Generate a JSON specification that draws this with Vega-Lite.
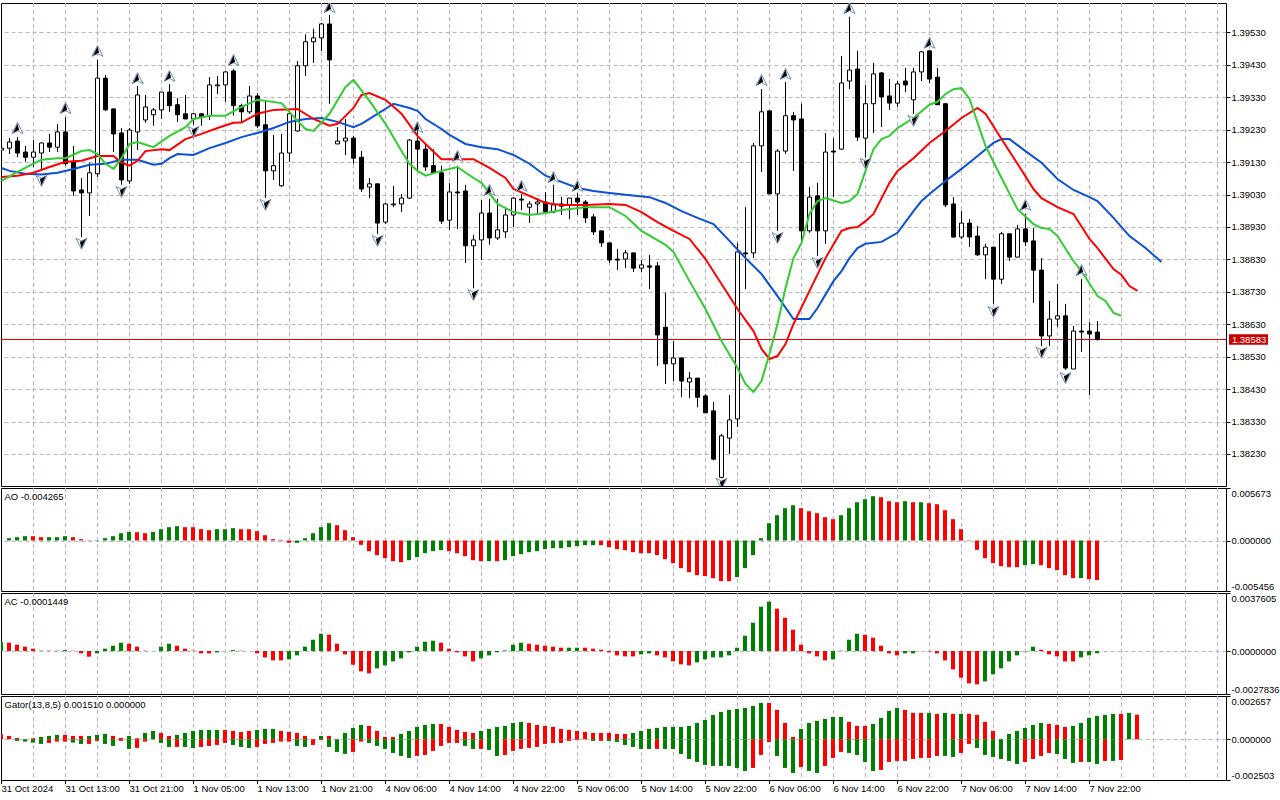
{"$schema":"https://vega.github.io/schema/vega-lite/v6.json","background":"#ffffff","padding":{"left":-3,"top":2,"right":0,"bottom":0},"bounds":"flush","spacing":2,"config":{"view":{"stroke":"#000000","strokeWidth":1},"font":"Liberation Sans","axis":{"labelFont":"Liberation Sans","labelFontSize":9.5,"labelColor":"#000000","tickColor":"#000000","title":null}},
"datasets":{
"candles":[{"i":0,"o":1.39167,"h":1.39189,"l":1.39161,"c":1.39173,"d":"u"},{"i":1,"o":1.39173,"h":1.39204,"l":1.39155,"c":1.39192,"d":"u"},{"i":2,"o":1.39195,"h":1.39207,"l":1.39145,"c":1.39158,"d":"d"},{"i":3,"o":1.39161,"h":1.3918,"l":1.39131,"c":1.39145,"d":"d"},{"i":4,"o":1.39145,"h":1.39198,"l":1.39115,"c":1.39161,"d":"u"},{"i":5,"o":1.39158,"h":1.39192,"l":1.39109,"c":1.39189,"d":"u"},{"i":6,"o":1.39189,"h":1.39217,"l":1.39161,"c":1.39176,"d":"d"},{"i":7,"o":1.39176,"h":1.39248,"l":1.39161,"c":1.39223,"d":"u"},{"i":8,"o":1.39223,"h":1.39269,"l":1.39119,"c":1.39125,"d":"d"},{"i":9,"o":1.39131,"h":1.3918,"l":1.39026,"c":1.39041,"d":"d"},{"i":10,"o":1.39044,"h":1.39081,"l":1.38899,"c":1.39035,"d":"d"},{"i":11,"o":1.39035,"h":1.39128,"l":1.38964,"c":1.39097,"d":"u"},{"i":12,"o":1.39094,"h":1.39445,"l":1.39084,"c":1.39389,"d":"u"},{"i":13,"o":1.39389,"h":1.39399,"l":1.39288,"c":1.39291,"d":"d"},{"i":14,"o":1.39294,"h":1.39294,"l":1.39161,"c":1.39217,"d":"d"},{"i":15,"o":1.3922,"h":1.39235,"l":1.3906,"c":1.39075,"d":"d"},{"i":16,"o":1.39072,"h":1.39235,"l":1.39063,"c":1.39229,"d":"u"},{"i":17,"o":1.39223,"h":1.39365,"l":1.39167,"c":1.39337,"d":"u"},{"i":18,"o":1.3926,"h":1.39337,"l":1.39251,"c":1.393,"d":"u"},{"i":19,"o":1.39276,"h":1.39297,"l":1.39242,"c":1.39291,"d":"u"},{"i":20,"o":1.39291,"h":1.39346,"l":1.39263,"c":1.39346,"d":"u"},{"i":21,"o":1.39346,"h":1.39371,"l":1.39285,"c":1.39304,"d":"d"},{"i":22,"o":1.39307,"h":1.39327,"l":1.39254,"c":1.39276,"d":"d"},{"i":23,"o":1.39279,"h":1.39337,"l":1.39263,"c":1.39263,"d":"d"},{"i":24,"o":1.39263,"h":1.39282,"l":1.39245,"c":1.39279,"d":"u"},{"i":25,"o":1.39279,"h":1.39279,"l":1.39242,"c":1.39269,"d":"d"},{"i":26,"o":1.39273,"h":1.39392,"l":1.3926,"c":1.39368,"d":"u"},{"i":27,"o":1.39365,"h":1.39396,"l":1.3934,"c":1.39368,"d":"u"},{"i":28,"o":1.39368,"h":1.39411,"l":1.39316,"c":1.39408,"d":"u"},{"i":29,"o":1.39411,"h":1.39417,"l":1.39273,"c":1.39304,"d":"d"},{"i":30,"o":1.39304,"h":1.3931,"l":1.39251,"c":1.39285,"d":"d"},{"i":31,"o":1.39285,"h":1.39365,"l":1.39279,"c":1.39334,"d":"u"},{"i":32,"o":1.39334,"h":1.39343,"l":1.39235,"c":1.39242,"d":"d"},{"i":33,"o":1.39245,"h":1.39319,"l":1.39019,"c":1.39103,"d":"d"},{"i":34,"o":1.39103,"h":1.39214,"l":1.39075,"c":1.39119,"d":"u"},{"i":35,"o":1.39057,"h":1.39217,"l":1.39053,"c":1.39158,"d":"u"},{"i":36,"o":1.39158,"h":1.39282,"l":1.39131,"c":1.39279,"d":"u"},{"i":37,"o":1.39226,"h":1.39442,"l":1.39223,"c":1.39427,"d":"u"},{"i":38,"o":1.39427,"h":1.39524,"l":1.39396,"c":1.39501,"d":"u"},{"i":39,"o":1.39501,"h":1.39541,"l":1.39436,"c":1.39513,"d":"u"},{"i":40,"o":1.39513,"h":1.39559,"l":1.39473,"c":1.39556,"d":"u"},{"i":41,"o":1.39556,"h":1.39584,"l":1.3931,"c":1.39445,"d":"d"},{"i":42,"o":1.39186,"h":1.39238,"l":1.39186,"c":1.39195,"d":"u"},{"i":43,"o":1.39195,"h":1.39263,"l":1.39152,"c":1.39204,"d":"u"},{"i":44,"o":1.39204,"h":1.39211,"l":1.39125,"c":1.39142,"d":"d"},{"i":45,"o":1.39145,"h":1.39164,"l":1.39038,"c":1.39047,"d":"d"},{"i":46,"o":1.39053,"h":1.39081,"l":1.39019,"c":1.39063,"d":"u"},{"i":47,"o":1.39063,"h":1.39063,"l":1.38909,"c":1.38942,"d":"d"},{"i":48,"o":1.38945,"h":1.39004,"l":1.38939,"c":1.39001,"d":"u"},{"i":49,"o":1.38998,"h":1.39057,"l":1.38991,"c":1.39001,"d":"u"},{"i":50,"o":1.39001,"h":1.39032,"l":1.38976,"c":1.39019,"d":"u"},{"i":51,"o":1.39019,"h":1.39201,"l":1.39016,"c":1.39198,"d":"u"},{"i":52,"o":1.39195,"h":1.39232,"l":1.39103,"c":1.3917,"d":"d"},{"i":53,"o":1.3917,"h":1.39189,"l":1.39103,"c":1.39115,"d":"d"},{"i":54,"o":1.39119,"h":1.3917,"l":1.39097,"c":1.39097,"d":"d"},{"i":55,"o":1.39097,"h":1.39119,"l":1.38939,"c":1.38948,"d":"d"},{"i":56,"o":1.38951,"h":1.39066,"l":1.38921,"c":1.39038,"d":"u"},{"i":57,"o":1.39038,"h":1.39119,"l":1.38924,"c":1.39035,"d":"d"},{"i":58,"o":1.39041,"h":1.3906,"l":1.38819,"c":1.38872,"d":"d"},{"i":59,"o":1.38872,"h":1.38906,"l":1.38741,"c":1.3889,"d":"u"},{"i":60,"o":1.3889,"h":1.39013,"l":1.38828,"c":1.38973,"d":"u"},{"i":61,"o":1.38973,"h":1.39016,"l":1.38875,"c":1.38896,"d":"d"},{"i":62,"o":1.38896,"h":1.39016,"l":1.3889,"c":1.38921,"d":"u"},{"i":63,"o":1.38915,"h":1.38991,"l":1.38896,"c":1.38967,"d":"u"},{"i":64,"o":1.38967,"h":1.39022,"l":1.3893,"c":1.39019,"d":"u"},{"i":65,"o":1.39016,"h":1.39032,"l":1.38982,"c":1.39013,"d":"d"},{"i":66,"o":1.38991,"h":1.3901,"l":1.38942,"c":1.39001,"d":"u"},{"i":67,"o":1.39001,"h":1.39019,"l":1.38973,"c":1.39007,"d":"u"},{"i":68,"o":1.39007,"h":1.39038,"l":1.38973,"c":1.38976,"d":"d"},{"i":69,"o":1.38976,"h":1.3906,"l":1.38973,"c":1.38998,"d":"u"},{"i":70,"o":1.38994,"h":1.39022,"l":1.38967,"c":1.39001,"d":"u"},{"i":71,"o":1.38998,"h":1.39019,"l":1.38954,"c":1.39019,"d":"u"},{"i":72,"o":1.39019,"h":1.39035,"l":1.38967,"c":1.39007,"d":"d"},{"i":73,"o":1.39007,"h":1.39013,"l":1.38942,"c":1.38958,"d":"d"},{"i":74,"o":1.38961,"h":1.3897,"l":1.38905,"c":1.38915,"d":"d"},{"i":75,"o":1.38918,"h":1.38918,"l":1.38868,"c":1.38881,"d":"d"},{"i":76,"o":1.38881,"h":1.38881,"l":1.38819,"c":1.38828,"d":"d"},{"i":77,"o":1.38831,"h":1.38862,"l":1.38797,"c":1.38828,"d":"d"},{"i":78,"o":1.38831,"h":1.38859,"l":1.38803,"c":1.3885,"d":"u"},{"i":79,"o":1.3885,"h":1.3885,"l":1.38791,"c":1.38803,"d":"d"},{"i":80,"o":1.38803,"h":1.38828,"l":1.38791,"c":1.38813,"d":"u"},{"i":81,"o":1.3881,"h":1.38844,"l":1.38739,"c":1.38806,"d":"d"},{"i":82,"o":1.3881,"h":1.38822,"l":1.38502,"c":1.38597,"d":"d"},{"i":83,"o":1.38621,"h":1.38727,"l":1.38446,"c":1.38508,"d":"d"},{"i":84,"o":1.38508,"h":1.38578,"l":1.38455,"c":1.38526,"d":"u"},{"i":85,"o":1.38526,"h":1.38529,"l":1.38405,"c":1.38455,"d":"d"},{"i":86,"o":1.38452,"h":1.38483,"l":1.38402,"c":1.38464,"d":"u"},{"i":87,"o":1.38464,"h":1.38464,"l":1.38374,"c":1.38405,"d":"d"},{"i":88,"o":1.38409,"h":1.38415,"l":1.38357,"c":1.38357,"d":"d"},{"i":89,"o":1.38363,"h":1.3839,"l":1.38211,"c":1.38214,"d":"d"},{"i":90,"o":1.38158,"h":1.38292,"l":1.38155,"c":1.38286,"d":"u"},{"i":91,"o":1.38279,"h":1.38412,"l":1.3823,"c":1.38335,"d":"u"},{"i":92,"o":1.38338,"h":1.38881,"l":1.38313,"c":1.38853,"d":"u"},{"i":93,"o":1.38847,"h":1.38991,"l":1.38739,"c":1.3885,"d":"d"},{"i":94,"o":1.3885,"h":1.39189,"l":1.38834,"c":1.3918,"d":"u"},{"i":95,"o":1.3918,"h":1.39355,"l":1.391,"c":1.39285,"d":"u"},{"i":96,"o":1.39288,"h":1.39288,"l":1.39032,"c":1.39032,"d":"d"},{"i":97,"o":1.39032,"h":1.3917,"l":1.38918,"c":1.39164,"d":"u"},{"i":98,"o":1.39164,"h":1.39377,"l":1.39155,"c":1.39273,"d":"u"},{"i":99,"o":1.39273,"h":1.39285,"l":1.39103,"c":1.3926,"d":"d"},{"i":100,"o":1.39263,"h":1.3931,"l":1.38887,"c":1.38918,"d":"d"},{"i":101,"o":1.38918,"h":1.39053,"l":1.38912,"c":1.39022,"d":"u"},{"i":102,"o":1.39026,"h":1.39066,"l":1.38841,"c":1.38918,"d":"d"},{"i":103,"o":1.38918,"h":1.3922,"l":1.38878,"c":1.39161,"d":"u"},{"i":104,"o":1.39164,"h":1.39204,"l":1.39022,"c":1.39161,"d":"d"},{"i":105,"o":1.3917,"h":1.39457,"l":1.39167,"c":1.39374,"d":"u"},{"i":106,"o":1.3938,"h":1.39578,"l":1.39355,"c":1.39414,"d":"u"},{"i":107,"o":1.39417,"h":1.39473,"l":1.39195,"c":1.39207,"d":"d"},{"i":108,"o":1.39204,"h":1.39368,"l":1.39145,"c":1.3931,"d":"u"},{"i":109,"o":1.3931,"h":1.39436,"l":1.3922,"c":1.39402,"d":"u"},{"i":110,"o":1.39405,"h":1.39408,"l":1.39238,"c":1.39331,"d":"d"},{"i":111,"o":1.39334,"h":1.39386,"l":1.39291,"c":1.39312,"d":"d"},{"i":112,"o":1.39312,"h":1.3938,"l":1.393,"c":1.39371,"d":"u"},{"i":113,"o":1.3938,"h":1.3942,"l":1.39346,"c":1.39368,"d":"d"},{"i":114,"o":1.39322,"h":1.3942,"l":1.39279,"c":1.39408,"d":"u"},{"i":115,"o":1.39408,"h":1.39473,"l":1.3938,"c":1.3947,"d":"u"},{"i":116,"o":1.39473,"h":1.39476,"l":1.39374,"c":1.39386,"d":"d"},{"i":117,"o":1.39392,"h":1.3942,"l":1.39307,"c":1.39307,"d":"d"},{"i":118,"o":1.3931,"h":1.3931,"l":1.38991,"c":1.38998,"d":"d"},{"i":119,"o":1.39001,"h":1.39022,"l":1.38896,"c":1.38899,"d":"d"},{"i":120,"o":1.38899,"h":1.38979,"l":1.38893,"c":1.38942,"d":"u"},{"i":121,"o":1.38942,"h":1.38954,"l":1.38868,"c":1.38899,"d":"d"},{"i":122,"o":1.38902,"h":1.38933,"l":1.38841,"c":1.38844,"d":"d"},{"i":123,"o":1.38844,"h":1.38878,"l":1.38769,"c":1.38868,"d":"u"},{"i":124,"o":1.38868,"h":1.38868,"l":1.38693,"c":1.38769,"d":"d"},{"i":125,"o":1.38769,"h":1.38915,"l":1.38754,"c":1.38909,"d":"u"},{"i":126,"o":1.38909,"h":1.38909,"l":1.38825,"c":1.38837,"d":"d"},{"i":127,"o":1.38837,"h":1.38936,"l":1.38837,"c":1.38924,"d":"u"},{"i":128,"o":1.38924,"h":1.3897,"l":1.38872,"c":1.38884,"d":"d"},{"i":129,"o":1.38887,"h":1.38927,"l":1.38696,"c":1.38797,"d":"d"},{"i":130,"o":1.38797,"h":1.38834,"l":1.38563,"c":1.38594,"d":"d"},{"i":131,"o":1.38594,"h":1.38702,"l":1.38563,"c":1.38646,"d":"u"},{"i":132,"o":1.38646,"h":1.38754,"l":1.38621,"c":1.38656,"d":"u"},{"i":133,"o":1.38656,"h":1.38693,"l":1.38489,"c":1.38495,"d":"d"},{"i":134,"o":1.38492,"h":1.38625,"l":1.38492,"c":1.38609,"d":"u"},{"i":135,"o":1.38606,"h":1.38769,"l":1.38545,"c":1.38609,"d":"d"},{"i":136,"o":1.38609,"h":1.38637,"l":1.38412,"c":1.386,"d":"d"},{"i":137,"o":1.38606,"h":1.3864,"l":1.3858,"c":1.38583,"d":"d"}],
"jaw":[{"i":0,"p":1.39112},{"i":1,"p":1.39103},{"i":3,"p":1.39094},{"i":5,"p":1.39092},{"i":7,"p":1.39097},{"i":9,"p":1.39109},{"i":11,"p":1.39122},{"i":13,"p":1.39125},{"i":15,"p":1.39137},{"i":17,"p":1.39137},{"i":19,"p":1.39122},{"i":20,"p":1.39125},{"i":21,"p":1.39142},{"i":22,"p":1.39155},{"i":24,"p":1.39152},{"i":26,"p":1.39173},{"i":28,"p":1.39189},{"i":30,"p":1.39207},{"i":32,"p":1.3922},{"i":34,"p":1.39235},{"i":36,"p":1.39254},{"i":38,"p":1.39263},{"i":40,"p":1.39266},{"i":42,"p":1.39254},{"i":44,"p":1.39238},{"i":45,"p":1.39248},{"i":47,"p":1.39279},{"i":49,"p":1.3931},{"i":51,"p":1.39297},{"i":52,"p":1.39288},{"i":53,"p":1.39263},{"i":55,"p":1.39232},{"i":56,"p":1.39214},{"i":58,"p":1.39186},{"i":60,"p":1.39176},{"i":62,"p":1.3917},{"i":64,"p":1.39152},{"i":66,"p":1.39125},{"i":68,"p":1.39088},{"i":70,"p":1.39069},{"i":72,"p":1.3905},{"i":74,"p":1.39041},{"i":76,"p":1.39035},{"i":78,"p":1.39029},{"i":81,"p":1.39022},{"i":83,"p":1.39004},{"i":85,"p":1.38979},{"i":87,"p":1.38958},{"i":89,"p":1.38939},{"i":91,"p":1.38887},{"i":93,"p":1.38834},{"i":95,"p":1.38785},{"i":97,"p":1.38717},{"i":99,"p":1.38646},{"i":101,"p":1.38646},{"i":102,"p":1.3868},{"i":104,"p":1.38763},{"i":105,"p":1.38794},{"i":106,"p":1.38834},{"i":107,"p":1.38865},{"i":108,"p":1.38878},{"i":110,"p":1.38884},{"i":112,"p":1.38912},{"i":114,"p":1.38979},{"i":115,"p":1.3901},{"i":116,"p":1.39032},{"i":118,"p":1.39072},{"i":120,"p":1.39109},{"i":122,"p":1.39149},{"i":124,"p":1.39189},{"i":125,"p":1.39201},{"i":126,"p":1.39201},{"i":128,"p":1.39164},{"i":130,"p":1.39128},{"i":132,"p":1.39078},{"i":134,"p":1.39044},{"i":136,"p":1.39022},{"i":137,"p":1.3901},{"i":139,"p":1.38958},{"i":141,"p":1.38902},{"i":143,"p":1.38865},{"i":145,"p":1.38822}],
"teeth":[{"i":0,"p":1.39084},{"i":2,"p":1.39088},{"i":4,"p":1.39097},{"i":6,"p":1.39115},{"i":8,"p":1.39131},{"i":10,"p":1.39134},{"i":12,"p":1.39149},{"i":14,"p":1.39149},{"i":15,"p":1.39128},{"i":16,"p":1.39119},{"i":17,"p":1.39134},{"i":18,"p":1.39164},{"i":20,"p":1.3917},{"i":21,"p":1.39167},{"i":23,"p":1.39201},{"i":25,"p":1.39217},{"i":27,"p":1.39235},{"i":29,"p":1.39251},{"i":30,"p":1.39252},{"i":32,"p":1.39279},{"i":34,"p":1.39291},{"i":37,"p":1.39294},{"i":39,"p":1.39263},{"i":41,"p":1.39242},{"i":42,"p":1.39248},{"i":44,"p":1.39297},{"i":45,"p":1.39337},{"i":46,"p":1.39343},{"i":48,"p":1.39322},{"i":50,"p":1.39279},{"i":52,"p":1.39211},{"i":53,"p":1.39186},{"i":55,"p":1.39139},{"i":57,"p":1.39139},{"i":59,"p":1.39139},{"i":61,"p":1.39112},{"i":63,"p":1.39081},{"i":64,"p":1.39047},{"i":66,"p":1.39026},{"i":68,"p":1.39004},{"i":70,"p":1.38998},{"i":73,"p":1.38998},{"i":76,"p":1.39001},{"i":78,"p":1.38998},{"i":80,"p":1.38976},{"i":82,"p":1.38945},{"i":84,"p":1.38918},{"i":86,"p":1.38893},{"i":88,"p":1.38831},{"i":90,"p":1.38754},{"i":92,"p":1.38677},{"i":94,"p":1.38609},{"i":95,"p":1.38554},{"i":96,"p":1.38523},{"i":97,"p":1.38532},{"i":98,"p":1.38569},{"i":99,"p":1.38631},{"i":101,"p":1.38733},{"i":103,"p":1.38834},{"i":105,"p":1.38918},{"i":106,"p":1.38927},{"i":107,"p":1.3893},{"i":108,"p":1.38948},{"i":109,"p":1.3897},{"i":111,"p":1.39066},{"i":112,"p":1.39103},{"i":114,"p":1.39142},{"i":116,"p":1.39189},{"i":118,"p":1.39226},{"i":120,"p":1.39266},{"i":122,"p":1.39297},{"i":123,"p":1.39279},{"i":125,"p":1.39201},{"i":127,"p":1.39125},{"i":129,"p":1.39047},{"i":130,"p":1.39019},{"i":132,"p":1.38991},{"i":134,"p":1.3897},{"i":136,"p":1.38893},{"i":137,"p":1.38865},{"i":139,"p":1.388},{"i":140,"p":1.38782},{"i":141,"p":1.38748},{"i":142,"p":1.38733}],
"lips":[{"i":0,"p":1.39072},{"i":2,"p":1.391},{"i":4,"p":1.39125},{"i":5,"p":1.39137},{"i":7,"p":1.39142},{"i":8,"p":1.39142},{"i":10,"p":1.39164},{"i":11,"p":1.39167},{"i":12,"p":1.39155},{"i":13,"p":1.39125},{"i":14,"p":1.39109},{"i":15,"p":1.39142},{"i":16,"p":1.39186},{"i":17,"p":1.39192},{"i":19,"p":1.39176},{"i":21,"p":1.39211},{"i":23,"p":1.39238},{"i":24,"p":1.39263},{"i":26,"p":1.39273},{"i":28,"p":1.39273},{"i":30,"p":1.393},{"i":32,"p":1.39322},{"i":35,"p":1.39312},{"i":37,"p":1.39257},{"i":38,"p":1.39232},{"i":39,"p":1.39226},{"i":41,"p":1.39279},{"i":43,"p":1.39362},{"i":44,"p":1.39383},{"i":46,"p":1.39319},{"i":48,"p":1.39248},{"i":50,"p":1.39164},{"i":51,"p":1.39125},{"i":52,"p":1.39103},{"i":53,"p":1.39088},{"i":55,"p":1.39103},{"i":57,"p":1.39115},{"i":59,"p":1.39081},{"i":60,"p":1.39066},{"i":62,"p":1.39001},{"i":64,"p":1.38976},{"i":66,"p":1.38967},{"i":68,"p":1.38973},{"i":70,"p":1.38982},{"i":73,"p":1.38991},{"i":76,"p":1.38991},{"i":78,"p":1.38964},{"i":80,"p":1.38918},{"i":83,"p":1.38875},{"i":84,"p":1.38853},{"i":86,"p":1.38763},{"i":88,"p":1.38677},{"i":90,"p":1.38578},{"i":92,"p":1.38495},{"i":93,"p":1.38446},{"i":94,"p":1.38421},{"i":95,"p":1.38455},{"i":96,"p":1.38539},{"i":97,"p":1.38631},{"i":98,"p":1.38742},{"i":99,"p":1.38834},{"i":100,"p":1.38881},{"i":101,"p":1.3897},{"i":102,"p":1.3901},{"i":103,"p":1.39019},{"i":105,"p":1.39004},{"i":106,"p":1.3901},{"i":107,"p":1.39032},{"i":108,"p":1.39103},{"i":109,"p":1.3917},{"i":110,"p":1.39201},{"i":111,"p":1.39211},{"i":112,"p":1.39235},{"i":114,"p":1.39266},{"i":116,"p":1.39307},{"i":117,"p":1.39316},{"i":118,"p":1.3934},{"i":119,"p":1.39355},{"i":120,"p":1.39358},{"i":121,"p":1.39325},{"i":123,"p":1.3918},{"i":125,"p":1.39081},{"i":127,"p":1.38985},{"i":129,"p":1.38939},{"i":130,"p":1.38927},{"i":131,"p":1.38924},{"i":132,"p":1.38902},{"i":134,"p":1.38825},{"i":135,"p":1.38794},{"i":137,"p":1.38717},{"i":138,"p":1.38702},{"i":139,"p":1.38665},{"i":140,"p":1.38656}],
"fractalUp":[{"i":2,"p":1.39235},{"i":8,"p":1.39297},{"i":12,"p":1.39473},{"i":17,"p":1.39389},{"i":21,"p":1.39396},{"i":29,"p":1.39445},{"i":41,"p":1.39608},{"i":52,"p":1.39238},{"i":57,"p":1.39149},{"i":61,"p":1.39044},{"i":65,"p":1.39057},{"i":69,"p":1.39084},{"i":72,"p":1.39057},{"i":95,"p":1.39383},{"i":98,"p":1.39402},{"i":106,"p":1.39605},{"i":116,"p":1.39498},{"i":128,"p":1.38998},{"i":135,"p":1.38797}],
"fractalDown":[{"i":5,"p":1.39072},{"i":10,"p":1.38878},{"i":15,"p":1.39038},{"i":24,"p":1.39223},{"i":33,"p":1.38998},{"i":47,"p":1.38887},{"i":59,"p":1.3872},{"i":90,"p":1.38138},{"i":97,"p":1.38896},{"i":102,"p":1.38819},{"i":108,"p":1.39125},{"i":114,"p":1.39257},{"i":124,"p":1.38668},{"i":130,"p":1.38542},{"i":133,"p":1.38464}],
"last":[{"p":1.38583,"tag":"1.38583"}],
"ao":[{"i":1,"v":0.000252,"g":"g"},{"i":2,"v":0.00036,"g":"g"},{"i":3,"v":0.000468,"g":"g"},{"i":4,"v":0.000468,"g":"r"},{"i":5,"v":0.00036,"g":"r"},{"i":6,"v":0.00036,"g":"g"},{"i":7,"v":0.00036,"g":"g"},{"i":8,"v":0.000468,"g":"g"},{"i":9,"v":0.00036,"g":"r"},{"i":10,"v":0.000144,"g":"r"},{"i":11,"v":0.000036,"g":"r"},{"i":12,"v":0.000036,"g":"g"},{"i":13,"v":0.000252,"g":"g"},{"i":14,"v":0.000468,"g":"g"},{"i":15,"v":0.000792,"g":"g"},{"i":16,"v":0.000936,"g":"g"},{"i":17,"v":0.0009,"g":"r"},{"i":18,"v":0.000792,"g":"r"},{"i":19,"v":0.000936,"g":"g"},{"i":20,"v":0.001224,"g":"g"},{"i":21,"v":0.00144,"g":"g"},{"i":22,"v":0.001548,"g":"g"},{"i":23,"v":0.00144,"g":"r"},{"i":24,"v":0.00144,"g":"r"},{"i":25,"v":0.001224,"g":"r"},{"i":26,"v":0.001116,"g":"r"},{"i":27,"v":0.001224,"g":"g"},{"i":28,"v":0.001224,"g":"g"},{"i":29,"v":0.001332,"g":"g"},{"i":30,"v":0.001224,"g":"r"},{"i":31,"v":0.001224,"g":"r"},{"i":32,"v":0.001008,"g":"r"},{"i":33,"v":0.000576,"g":"r"},{"i":34,"v":0.000144,"g":"r"},{"i":35,"v":0.000072,"g":"r"},{"i":36,"v":-0.000252,"g":"r"},{"i":37,"v":-0.000252,"g":"g"},{"i":38,"v":0.000252,"g":"g"},{"i":39,"v":0.000792,"g":"g"},{"i":40,"v":0.00144,"g":"g"},{"i":41,"v":0.001872,"g":"g"},{"i":42,"v":0.001656,"g":"r"},{"i":43,"v":0.001116,"g":"r"},{"i":44,"v":0.00036,"g":"r"},{"i":45,"v":-0.000468,"g":"r"},{"i":46,"v":-0.001152,"g":"r"},{"i":47,"v":-0.001584,"g":"r"},{"i":48,"v":-0.001908,"g":"r"},{"i":49,"v":-0.002232,"g":"r"},{"i":50,"v":-0.00234,"g":"r"},{"i":51,"v":-0.002124,"g":"g"},{"i":52,"v":-0.0018,"g":"g"},{"i":53,"v":-0.001368,"g":"g"},{"i":54,"v":-0.001152,"g":"g"},{"i":55,"v":-0.001044,"g":"g"},{"i":56,"v":-0.001152,"g":"r"},{"i":57,"v":-0.001368,"g":"r"},{"i":58,"v":-0.001692,"g":"r"},{"i":59,"v":-0.002124,"g":"r"},{"i":60,"v":-0.002232,"g":"r"},{"i":61,"v":-0.002232,"g":"g"},{"i":62,"v":-0.002232,"g":"r"},{"i":63,"v":-0.002124,"g":"g"},{"i":64,"v":-0.001692,"g":"g"},{"i":65,"v":-0.001476,"g":"g"},{"i":66,"v":-0.00126,"g":"g"},{"i":67,"v":-0.001152,"g":"g"},{"i":68,"v":-0.000936,"g":"g"},{"i":69,"v":-0.000828,"g":"g"},{"i":70,"v":-0.000828,"g":"g"},{"i":71,"v":-0.00072,"g":"g"},{"i":72,"v":-0.000612,"g":"g"},{"i":73,"v":-0.000504,"g":"g"},{"i":74,"v":-0.000504,"g":"g"},{"i":75,"v":-0.000504,"g":"r"},{"i":76,"v":-0.00072,"g":"r"},{"i":77,"v":-0.000936,"g":"r"},{"i":78,"v":-0.001044,"g":"r"},{"i":79,"v":-0.00126,"g":"r"},{"i":80,"v":-0.001368,"g":"r"},{"i":81,"v":-0.001368,"g":"r"},{"i":82,"v":-0.001584,"g":"r"},{"i":83,"v":-0.002016,"g":"r"},{"i":84,"v":-0.002448,"g":"r"},{"i":85,"v":-0.002988,"g":"r"},{"i":86,"v":-0.00342,"g":"r"},{"i":87,"v":-0.003744,"g":"r"},{"i":88,"v":-0.003852,"g":"r"},{"i":89,"v":-0.004068,"g":"r"},{"i":90,"v":-0.004392,"g":"r"},{"i":91,"v":-0.004392,"g":"r"},{"i":92,"v":-0.00396,"g":"g"},{"i":93,"v":-0.002988,"g":"g"},{"i":94,"v":-0.001584,"g":"g"},{"i":95,"v":0.000252,"g":"g"},{"i":96,"v":0.001872,"g":"g"},{"i":97,"v":0.002736,"g":"g"},{"i":98,"v":0.003492,"g":"g"},{"i":99,"v":0.003816,"g":"g"},{"i":100,"v":0.003492,"g":"r"},{"i":101,"v":0.003168,"g":"r"},{"i":102,"v":0.002952,"g":"r"},{"i":103,"v":0.00252,"g":"r"},{"i":104,"v":0.002304,"g":"r"},{"i":105,"v":0.002736,"g":"g"},{"i":106,"v":0.003492,"g":"g"},{"i":107,"v":0.00414,"g":"g"},{"i":108,"v":0.004464,"g":"g"},{"i":109,"v":0.004788,"g":"g"},{"i":110,"v":0.00468,"g":"r"},{"i":111,"v":0.004248,"g":"r"},{"i":112,"v":0.00414,"g":"r"},{"i":113,"v":0.004248,"g":"g"},{"i":114,"v":0.00414,"g":"r"},{"i":115,"v":0.00414,"g":"g"},{"i":116,"v":0.004032,"g":"r"},{"i":117,"v":0.003924,"g":"r"},{"i":118,"v":0.003276,"g":"r"},{"i":119,"v":0.002304,"g":"r"},{"i":120,"v":0.001224,"g":"r"},{"i":121,"v":-0.000036,"g":"r"},{"i":122,"v":-0.001008,"g":"r"},{"i":123,"v":-0.001908,"g":"r"},{"i":124,"v":-0.002448,"g":"r"},{"i":125,"v":-0.002772,"g":"r"},{"i":126,"v":-0.00288,"g":"r"},{"i":127,"v":-0.00288,"g":"r"},{"i":128,"v":-0.002664,"g":"g"},{"i":129,"v":-0.002556,"g":"g"},{"i":130,"v":-0.002664,"g":"r"},{"i":131,"v":-0.002988,"g":"r"},{"i":132,"v":-0.003204,"g":"r"},{"i":133,"v":-0.003744,"g":"r"},{"i":134,"v":-0.004068,"g":"r"},{"i":135,"v":-0.004068,"g":"g"},{"i":136,"v":-0.004176,"g":"r"},{"i":137,"v":-0.004265,"g":"r"}],
"ac":[{"i":0,"v":0.000583,"g":"g"},{"i":1,"v":0.00054,"g":"r"},{"i":2,"v":0.00041,"g":"r"},{"i":3,"v":0.000281,"g":"r"},{"i":4,"v":0.000151,"g":"r"},{"i":5,"v":0.000022,"g":"r"},{"i":6,"v":0.000022,"g":"r"},{"i":7,"v":0.000022,"g":"g"},{"i":8,"v":0.000065,"g":"g"},{"i":9,"v":0.000022,"g":"r"},{"i":10,"v":-0.000151,"g":"r"},{"i":11,"v":-0.000367,"g":"r"},{"i":12,"v":-0.000151,"g":"g"},{"i":13,"v":0.000151,"g":"g"},{"i":14,"v":0.000346,"g":"g"},{"i":15,"v":0.00054,"g":"g"},{"i":16,"v":0.000475,"g":"r"},{"i":17,"v":0.000281,"g":"r"},{"i":18,"v":0.000022,"g":"r"},{"i":20,"v":0.000281,"g":"g"},{"i":21,"v":0.000475,"g":"g"},{"i":22,"v":0.000346,"g":"r"},{"i":23,"v":0.000151,"g":"r"},{"i":24,"v":0.000022,"g":"r"},{"i":25,"v":-0.000151,"g":"r"},{"i":26,"v":-0.000151,"g":"r"},{"i":27,"v":-0.000086,"g":"g"},{"i":29,"v":0.000065,"g":"g"},{"i":30,"v":0.000022,"g":"r"},{"i":32,"v":-0.000151,"g":"r"},{"i":33,"v":-0.00041,"g":"r"},{"i":34,"v":-0.000605,"g":"r"},{"i":35,"v":-0.000605,"g":"r"},{"i":36,"v":-0.00054,"g":"g"},{"i":37,"v":-0.000281,"g":"g"},{"i":38,"v":0.000281,"g":"g"},{"i":39,"v":0.000734,"g":"g"},{"i":40,"v":0.001123,"g":"g"},{"i":41,"v":0.001058,"g":"r"},{"i":42,"v":0.000475,"g":"r"},{"i":43,"v":-0.000216,"g":"r"},{"i":44,"v":-0.000886,"g":"r"},{"i":45,"v":-0.001318,"g":"r"},{"i":46,"v":-0.001447,"g":"r"},{"i":47,"v":-0.001123,"g":"g"},{"i":48,"v":-0.000929,"g":"g"},{"i":49,"v":-0.00067,"g":"g"},{"i":50,"v":-0.000475,"g":"g"},{"i":51,"v":-0.000086,"g":"g"},{"i":52,"v":0.000281,"g":"g"},{"i":53,"v":0.000605,"g":"g"},{"i":54,"v":0.00067,"g":"g"},{"i":55,"v":0.00054,"g":"r"},{"i":56,"v":0.000151,"g":"r"},{"i":57,"v":-0.000086,"g":"r"},{"i":58,"v":-0.000346,"g":"r"},{"i":59,"v":-0.00067,"g":"r"},{"i":60,"v":-0.000475,"g":"g"},{"i":61,"v":-0.000281,"g":"g"},{"i":62,"v":-0.000086,"g":"g"},{"i":63,"v":0.000043,"g":"g"},{"i":64,"v":0.00041,"g":"g"},{"i":65,"v":0.00054,"g":"g"},{"i":66,"v":0.000475,"g":"r"},{"i":67,"v":0.00041,"g":"r"},{"i":68,"v":0.000346,"g":"r"},{"i":69,"v":0.000281,"g":"r"},{"i":70,"v":0.000216,"g":"r"},{"i":71,"v":0.000216,"g":"g"},{"i":72,"v":0.000216,"g":"g"},{"i":73,"v":0.000216,"g":"r"},{"i":74,"v":0.000151,"g":"r"},{"i":75,"v":0.000086,"g":"r"},{"i":76,"v":-0.000086,"g":"r"},{"i":77,"v":-0.000281,"g":"r"},{"i":78,"v":-0.000346,"g":"r"},{"i":79,"v":-0.000346,"g":"r"},{"i":80,"v":-0.000216,"g":"g"},{"i":81,"v":-0.000151,"g":"g"},{"i":82,"v":-0.000281,"g":"r"},{"i":83,"v":-0.00041,"g":"r"},{"i":84,"v":-0.00067,"g":"r"},{"i":85,"v":-0.000864,"g":"r"},{"i":86,"v":-0.000929,"g":"r"},{"i":87,"v":-0.000734,"g":"g"},{"i":88,"v":-0.00054,"g":"g"},{"i":89,"v":-0.00041,"g":"g"},{"i":90,"v":-0.00041,"g":"g"},{"i":91,"v":-0.000281,"g":"g"},{"i":92,"v":0.000216,"g":"g"},{"i":93,"v":0.000994,"g":"g"},{"i":94,"v":0.001836,"g":"g"},{"i":95,"v":0.002873,"g":"g"},{"i":96,"v":0.003197,"g":"g"},{"i":97,"v":0.002743,"g":"r"},{"i":98,"v":0.00216,"g":"r"},{"i":99,"v":0.001382,"g":"r"},{"i":100,"v":0.00041,"g":"r"},{"i":101,"v":-0.000151,"g":"r"},{"i":102,"v":-0.000346,"g":"r"},{"i":103,"v":-0.000605,"g":"r"},{"i":104,"v":-0.00054,"g":"g"},{"i":105,"v":0.000022,"g":"g"},{"i":106,"v":0.000734,"g":"g"},{"i":107,"v":0.001123,"g":"g"},{"i":108,"v":0.001058,"g":"r"},{"i":109,"v":0.000864,"g":"r"},{"i":110,"v":0.000346,"g":"r"},{"i":111,"v":-0.000151,"g":"r"},{"i":112,"v":-0.000281,"g":"r"},{"i":113,"v":-0.000151,"g":"g"},{"i":114,"v":-0.000151,"g":"g"},{"i":116,"v":-0.000022,"g":"r"},{"i":117,"v":-0.000151,"g":"r"},{"i":118,"v":-0.000605,"g":"r"},{"i":119,"v":-0.001188,"g":"r"},{"i":120,"v":-0.001728,"g":"r"},{"i":121,"v":-0.002095,"g":"r"},{"i":122,"v":-0.00216,"g":"r"},{"i":123,"v":-0.001966,"g":"g"},{"i":124,"v":-0.001512,"g":"g"},{"i":125,"v":-0.001123,"g":"g"},{"i":126,"v":-0.00067,"g":"g"},{"i":127,"v":-0.000281,"g":"g"},{"i":128,"v":-0.000022,"g":"g"},{"i":129,"v":0.000281,"g":"g"},{"i":130,"v":0.000086,"g":"r"},{"i":131,"v":-0.000216,"g":"r"},{"i":132,"v":-0.000346,"g":"r"},{"i":133,"v":-0.00067,"g":"r"},{"i":134,"v":-0.00067,"g":"r"},{"i":135,"v":-0.00041,"g":"g"},{"i":136,"v":-0.000281,"g":"g"},{"i":137,"v":-0.000145,"g":"g"}],
"gator":[{"i":0,"u":0.000308,"l":0,"uc":"r","lc":"r"},{"i":1,"u":0.000205,"l":0,"uc":"r","lc":"r"},{"i":2,"u":0.000082,"l":-0.000103,"uc":"r","lc":"g"},{"i":3,"u":0,"l":-0.000144,"uc":"r","lc":"g"},{"i":4,"u":0.000062,"l":-0.000205,"uc":"r","lc":"g"},{"i":5,"u":0.000144,"l":-0.000287,"uc":"g","lc":"g"},{"i":6,"u":0.000205,"l":-0.000226,"uc":"g","lc":"r"},{"i":7,"u":0.000267,"l":-0.000144,"uc":"g","lc":"r"},{"i":8,"u":0.000267,"l":-0.000144,"uc":"r","lc":"r"},{"i":9,"u":0.000205,"l":-0.000205,"uc":"r","lc":"g"},{"i":10,"u":0.000205,"l":-0.000287,"uc":"r","lc":"g"},{"i":11,"u":0.000205,"l":-0.000287,"uc":"g","lc":"r"},{"i":12,"u":0.000267,"l":-0.000103,"uc":"g","lc":"r"},{"i":13,"u":0.000328,"l":-0.000287,"uc":"g","lc":"g"},{"i":14,"u":0.000205,"l":-0.00041,"uc":"r","lc":"g"},{"i":15,"u":0.000082,"l":-0.000103,"uc":"r","lc":"r"},{"i":16,"u":0.000205,"l":-0.000595,"uc":"g","lc":"g"},{"i":17,"u":0.000062,"l":-0.000533,"uc":"r","lc":"r"},{"i":18,"u":0.00039,"l":-0.000144,"uc":"g","lc":"r"},{"i":19,"u":0.000513,"l":0,"uc":"g","lc":"r"},{"i":20,"u":0.00039,"l":-0.000226,"uc":"r","lc":"g"},{"i":21,"u":0.000205,"l":-0.000472,"uc":"r","lc":"g"},{"i":22,"u":0.000267,"l":-0.000472,"uc":"g","lc":"r"},{"i":23,"u":0.00039,"l":-0.000472,"uc":"g","lc":"g"},{"i":24,"u":0.000513,"l":-0.000533,"uc":"g","lc":"g"},{"i":25,"u":0.000574,"l":-0.000472,"uc":"g","lc":"r"},{"i":26,"u":0.000574,"l":-0.00041,"uc":"g","lc":"r"},{"i":27,"u":0.000574,"l":-0.000349,"uc":"g","lc":"r"},{"i":28,"u":0.000574,"l":-0.000226,"uc":"r","lc":"r"},{"i":29,"u":0.000513,"l":-0.000349,"uc":"r","lc":"g"},{"i":30,"u":0.000451,"l":-0.000472,"uc":"r","lc":"g"},{"i":31,"u":0.000513,"l":-0.000533,"uc":"r","lc":"g"},{"i":32,"u":0.000574,"l":-0.000472,"uc":"g","lc":"r"},{"i":33,"u":0.000636,"l":-0.000287,"uc":"g","lc":"r"},{"i":34,"u":0.000636,"l":-0.000226,"uc":"g","lc":"r"},{"i":35,"u":0.000513,"l":-0.000144,"uc":"r","lc":"r"},{"i":36,"u":0.000451,"l":-0.000144,"uc":"r","lc":"r"},{"i":37,"u":0.00039,"l":-0.00041,"uc":"r","lc":"g"},{"i":38,"u":0.000205,"l":-0.000472,"uc":"r","lc":"g"},{"i":39,"u":0,"l":-0.000349,"uc":"r","lc":"r"},{"i":40,"u":0.000205,"l":-0.000041,"uc":"g","lc":"r"},{"i":41,"u":0.000205,"l":-0.000472,"uc":"r","lc":"g"},{"i":42,"u":0,"l":-0.000779,"uc":"r","lc":"g"},{"i":43,"u":0.00039,"l":-0.000902,"uc":"g","lc":"g"},{"i":44,"u":0.000697,"l":-0.000779,"uc":"g","lc":"r"},{"i":45,"u":0.000882,"l":-0.000144,"uc":"g","lc":"r"},{"i":46,"u":0.00082,"l":-0.000226,"uc":"r","lc":"g"},{"i":47,"u":0.000513,"l":-0.00041,"uc":"r","lc":"g"},{"i":48,"u":0.000144,"l":-0.000595,"uc":"r","lc":"g"},{"i":49,"u":0.000144,"l":-0.000841,"uc":"r","lc":"g"},{"i":50,"u":0.000328,"l":-0.001025,"uc":"g","lc":"g"},{"i":51,"u":0.000513,"l":-0.001148,"uc":"g","lc":"g"},{"i":52,"u":0.000759,"l":-0.001025,"uc":"g","lc":"r"},{"i":53,"u":0.000882,"l":-0.000964,"uc":"g","lc":"r"},{"i":54,"u":0.000943,"l":-0.000718,"uc":"g","lc":"r"},{"i":55,"u":0.000943,"l":-0.00041,"uc":"r","lc":"r"},{"i":56,"u":0.000759,"l":-0.000226,"uc":"r","lc":"r"},{"i":57,"u":0.000574,"l":-0.000226,"uc":"r","lc":"r"},{"i":58,"u":0.000451,"l":-0.00041,"uc":"r","lc":"g"},{"i":59,"u":0.00039,"l":-0.000595,"uc":"r","lc":"g"},{"i":60,"u":0.000513,"l":-0.000595,"uc":"g","lc":"r"},{"i":61,"u":0.000636,"l":-0.000656,"uc":"g","lc":"g"},{"i":62,"u":0.000759,"l":-0.001025,"uc":"g","lc":"g"},{"i":63,"u":0.00082,"l":-0.000964,"uc":"g","lc":"r"},{"i":64,"u":0.001005,"l":-0.000718,"uc":"g","lc":"r"},{"i":65,"u":0.001066,"l":-0.000595,"uc":"g","lc":"r"},{"i":66,"u":0.001005,"l":-0.000533,"uc":"r","lc":"r"},{"i":67,"u":0.000882,"l":-0.000472,"uc":"r","lc":"r"},{"i":68,"u":0.00082,"l":-0.000287,"uc":"r","lc":"r"},{"i":69,"u":0.000759,"l":-0.000226,"uc":"r","lc":"r"},{"i":70,"u":0.000636,"l":-0.000226,"uc":"r","lc":"r"},{"i":71,"u":0.000574,"l":-0.000103,"uc":"r","lc":"r"},{"i":72,"u":0.000513,"l":-0.000041,"uc":"r","lc":"r"},{"i":73,"u":0.000451,"l":0,"uc":"r","lc":"r"},{"i":74,"u":0.00039,"l":-0.000103,"uc":"r","lc":"g"},{"i":75,"u":0.00039,"l":-0.000103,"uc":"r","lc":"r"},{"i":76,"u":0.00039,"l":-0.000103,"uc":"r","lc":"g"},{"i":77,"u":0.000328,"l":-0.000164,"uc":"r","lc":"g"},{"i":78,"u":0.000328,"l":-0.000349,"uc":"r","lc":"g"},{"i":79,"u":0.00039,"l":-0.000472,"uc":"g","lc":"g"},{"i":80,"u":0.000513,"l":-0.000595,"uc":"g","lc":"g"},{"i":81,"u":0.000636,"l":-0.000595,"uc":"g","lc":"g"},{"i":82,"u":0.000697,"l":-0.000595,"uc":"g","lc":"r"},{"i":83,"u":0.000759,"l":-0.000595,"uc":"g","lc":"g"},{"i":84,"u":0.000759,"l":-0.000595,"uc":"g","lc":"g"},{"i":85,"u":0.000759,"l":-0.000902,"uc":"g","lc":"g"},{"i":86,"u":0.00082,"l":-0.00121,"uc":"g","lc":"g"},{"i":87,"u":0.001005,"l":-0.001394,"uc":"g","lc":"g"},{"i":88,"u":0.001189,"l":-0.001579,"uc":"g","lc":"g"},{"i":89,"u":0.001497,"l":-0.00164,"uc":"g","lc":"g"},{"i":90,"u":0.001681,"l":-0.00164,"uc":"g","lc":"g"},{"i":91,"u":0.001804,"l":-0.00164,"uc":"g","lc":"g"},{"i":92,"u":0.001866,"l":-0.001763,"uc":"g","lc":"g"},{"i":93,"u":0.001927,"l":-0.001948,"uc":"g","lc":"g"},{"i":94,"u":0.00205,"l":-0.001763,"uc":"g","lc":"r"},{"i":95,"u":0.002235,"l":-0.000964,"uc":"g","lc":"r"},{"i":96,"u":0.002235,"l":-0.000164,"uc":"r","lc":"r"},{"i":97,"u":0.001804,"l":-0.001025,"uc":"r","lc":"g"},{"i":98,"u":0.001005,"l":-0.001763,"uc":"r","lc":"g"},{"i":99,"u":0.000144,"l":-0.002071,"uc":"r","lc":"g"},{"i":100,"u":0.000636,"l":-0.001702,"uc":"g","lc":"r"},{"i":101,"u":0.001005,"l":-0.001948,"uc":"g","lc":"g"},{"i":102,"u":0.001128,"l":-0.002071,"uc":"g","lc":"g"},{"i":103,"u":0.001251,"l":-0.00164,"uc":"g","lc":"r"},{"i":104,"u":0.001374,"l":-0.001148,"uc":"g","lc":"r"},{"i":105,"u":0.001374,"l":-0.000779,"uc":"g","lc":"r"},{"i":106,"u":0.001066,"l":-0.000841,"uc":"r","lc":"g"},{"i":107,"u":0.00082,"l":-0.000964,"uc":"r","lc":"g"},{"i":108,"u":0.00082,"l":-0.001394,"uc":"r","lc":"g"},{"i":109,"u":0.000943,"l":-0.001948,"uc":"g","lc":"g"},{"i":110,"u":0.001312,"l":-0.001886,"uc":"g","lc":"r"},{"i":111,"u":0.001743,"l":-0.001394,"uc":"g","lc":"r"},{"i":112,"u":0.001927,"l":-0.001333,"uc":"g","lc":"r"},{"i":113,"u":0.001804,"l":-0.001333,"uc":"r","lc":"r"},{"i":114,"u":0.00162,"l":-0.00121,"uc":"r","lc":"r"},{"i":115,"u":0.00162,"l":-0.001148,"uc":"r","lc":"r"},{"i":116,"u":0.00162,"l":-0.001148,"uc":"g","lc":"r"},{"i":117,"u":0.001558,"l":-0.001025,"uc":"r","lc":"r"},{"i":118,"u":0.00162,"l":-0.001025,"uc":"g","lc":"g"},{"i":119,"u":0.001558,"l":-0.001087,"uc":"r","lc":"g"},{"i":120,"u":0.001558,"l":-0.000841,"uc":"g","lc":"r"},{"i":121,"u":0.001558,"l":-0.000287,"uc":"r","lc":"r"},{"i":122,"u":0.001497,"l":-0.000533,"uc":"r","lc":"g"},{"i":123,"u":0.001066,"l":-0.000964,"uc":"r","lc":"g"},{"i":124,"u":0.000513,"l":-0.001087,"uc":"r","lc":"g"},{"i":125,"u":0,"l":-0.00121,"uc":"g","lc":"g"},{"i":126,"u":0.000328,"l":-0.001333,"uc":"g","lc":"g"},{"i":127,"u":0.000513,"l":-0.001517,"uc":"g","lc":"g"},{"i":128,"u":0.000697,"l":-0.001394,"uc":"g","lc":"r"},{"i":129,"u":0.000882,"l":-0.00121,"uc":"g","lc":"r"},{"i":130,"u":0.001005,"l":-0.001025,"uc":"g","lc":"r"},{"i":131,"u":0.000943,"l":-0.000841,"uc":"r","lc":"r"},{"i":132,"u":0.000882,"l":-0.000902,"uc":"r","lc":"g"},{"i":133,"u":0.000759,"l":-0.00121,"uc":"r","lc":"g"},{"i":134,"u":0.00082,"l":-0.001456,"uc":"g","lc":"g"},{"i":135,"u":0.001005,"l":-0.001394,"uc":"g","lc":"r"},{"i":136,"u":0.001312,"l":-0.001394,"uc":"g","lc":"g"},{"i":137,"u":0.001435,"l":-0.001517,"uc":"g","lc":"g"},{"i":138,"u":0.001497,"l":-0.001333,"uc":"g","lc":"r"},{"i":139,"u":0.001558,"l":-0.001333,"uc":"g","lc":"g"},{"i":140,"u":0.001558,"l":-0.001271,"uc":"r","lc":"r"},{"i":141,"u":0.00162,"l":0,"uc":"g","lc":"g"},{"i":142,"u":0.00151,"l":0,"uc":"r","lc":"r"}]
},
"vconcat":[
{"width":1225,"height":483,"layer":[
{"data":{"name":"candles"},"mark":{"type":"rule","color":"#000000","strokeWidth":1},"encoding":{"x":{"field":"i","type":"quantitative","scale":{"domain":[-0.0625,153.0625],"padding":0},"axis":{"values":[4,8,12,16,20,24,28,32,36,40,44,48,52,56,60,64,68,72,76,80,84,88,92,96,100,104,108,112,116,120,124,128,132,136,140,144,148,152],"tickCount":60,"labels":false,"ticks":false,"domain":false,"grid":true,"gridColor":"#c6afc6","gridDash":[4,3],"gridWidth":1,"translate":0,"tickRound":false,"title":null}},"y":{"field":"l","type":"quantitative","scale":{"domain":[1.381313,1.396206]},"axis":{"orient":"right","values":[1.3953,1.3943,1.3933,1.3923,1.3913,1.3903,1.3893,1.3883,1.3873,1.3863,1.3853,1.3843,1.3833,1.3823],"tickCount":60,"format":".5f","domain":false,"tickSize":4,"labelPadding":1,"labelOverlap":false,"labelBound":false,"labelFlush":false,"tickRound":true,"grid":true,"gridColor":"#b4bab4","gridDash":[4,3],"gridWidth":1,"title":null}},"y2":{"field":"h"}}},
{"data":{"name":"last"},"mark":{"type":"rule","color":"#ee0000","strokeWidth":1},"encoding":{"y":{"field":"p","type":"quantitative","scale":{"domain":[1.381313,1.396206]}}}},
{"data":{"name":"candles"},"mark":{"type":"bar","orient":"vertical","size":4,"stroke":"#000000","strokeWidth":1,"clip":true},"encoding":{"x":{"field":"i","type":"quantitative","scale":{"domain":[-0.0625,153.0625],"padding":0}},"y":{"field":"o","type":"quantitative","scale":{"domain":[1.381313,1.396206]}},"y2":{"field":"c"},"fill":{"field":"d","type":"nominal","scale":{"domain":["u","d"],"range":["#ffffff","#000000"]},"legend":null}}},
{"data":{"name":"jaw"},"mark":{"type":"line","color":"#0a50d8","strokeWidth":2},"encoding":{"x":{"field":"i","type":"quantitative","scale":{"domain":[-0.0625,153.0625],"padding":0}},"y":{"field":"p","type":"quantitative","scale":{"domain":[1.381313,1.396206]}}}},
{"data":{"name":"teeth"},"mark":{"type":"line","color":"#ff0000","strokeWidth":2},"encoding":{"x":{"field":"i","type":"quantitative","scale":{"domain":[-0.0625,153.0625],"padding":0}},"y":{"field":"p","type":"quantitative","scale":{"domain":[1.381313,1.396206]}}}},
{"data":{"name":"lips"},"mark":{"type":"line","color":"#32cd32","strokeWidth":2},"encoding":{"x":{"field":"i","type":"quantitative","scale":{"domain":[-0.0625,153.0625],"padding":0}},"y":{"field":"p","type":"quantitative","scale":{"domain":[1.381313,1.396206]}}}},
{"data":{"name":"fractalUp"},"mark":{"type":"point","shape":"M0,-1L-1,1L0,0.5L1,1Z","size":121,"filled":true,"fill":"#ffffff","stroke":"#6f8fb8","strokeWidth":1,"opacity":1,"clip":true},"encoding":{"x":{"field":"i","type":"quantitative","scale":{"domain":[-0.0625,153.0625],"padding":0}},"y":{"field":"p","type":"quantitative","scale":{"domain":[1.381313,1.396206]}}}},
{"data":{"name":"fractalUp"},"mark":{"type":"point","shape":"M0,-0.8L-0.8,0.9L0,0.45L0.3,0.4Z","size":121,"filled":true,"fill":"#000000","opacity":1,"clip":true},"encoding":{"x":{"field":"i","type":"quantitative","scale":{"domain":[-0.0625,153.0625],"padding":0}},"y":{"field":"p","type":"quantitative","scale":{"domain":[1.381313,1.396206]}}}},
{"data":{"name":"fractalDown"},"mark":{"type":"point","shape":"M0,1L-1,-1L0,-0.5L1,-1Z","size":121,"filled":true,"fill":"#ffffff","stroke":"#6f8fb8","strokeWidth":1,"opacity":1,"clip":true},"encoding":{"x":{"field":"i","type":"quantitative","scale":{"domain":[-0.0625,153.0625],"padding":0}},"y":{"field":"p","type":"quantitative","scale":{"domain":[1.381313,1.396206]}}}},
{"data":{"name":"fractalDown"},"mark":{"type":"point","shape":"M0,0.8L0.8,-0.9L0,-0.45L-0.3,-0.4Z","size":121,"filled":true,"fill":"#000000","opacity":1,"clip":true},"encoding":{"x":{"field":"i","type":"quantitative","scale":{"domain":[-0.0625,153.0625],"padding":0}},"y":{"field":"p","type":"quantitative","scale":{"domain":[1.381313,1.396206]}}}},
{"data":{"name":"last"},"mark":{"type":"rect","color":"#c80000"},"encoding":{"x":{"datum":153.44,"type":"quantitative","scale":{"domain":[-0.0625,153.0625],"padding":0}},"x2":{"datum":158.31},"y":{"datum":1.38599,"type":"quantitative","scale":{"domain":[1.381313,1.396206]}},"y2":{"datum":1.38567}}},
{"data":{"name":"last"},"mark":{"type":"text","align":"left","baseline":"middle","color":"#ffffff","fontSize":9.5,"font":"Liberation Sans"},"encoding":{"x":{"datum":153.8,"type":"quantitative","scale":{"domain":[-0.0625,153.0625],"padding":0}},"y":{"field":"p","type":"quantitative","scale":{"domain":[1.381313,1.396206]}},"text":{"field":"tag"}}}
]},
{"width":1225,"height":103,"layer":[
{"data":{"name":"ao"},"mark":{"type":"bar","orient":"vertical","size":4,"xOffset":-0.5},"encoding":{"x":{"field":"i","type":"quantitative","scale":{"domain":[-0.0625,153.0625],"padding":0},"axis":{"values":[4,8,12,16,20,24,28,32,36,40,44,48,52,56,60,64,68,72,76,80,84,88,92,96,100,104,108,112,116,120,124,128,132,136,140,144,148,152],"tickCount":60,"labels":false,"ticks":false,"domain":false,"grid":true,"gridColor":"#c6afc6","gridDash":[4,3],"gridWidth":1,"translate":0,"tickRound":false,"title":null}},"y":{"field":"v","type":"quantitative","scale":{"domain":[-0.005456,0.005673],"nice":false,"zero":false},"axis":{"orient":"right","values":[-0.005456,0,0.005673],"labelExpr":"(datum.value<0?'-':'')+format(abs(datum.value),'.6f')","labelBaseline":{"expr":"datum.value>0?'top':datum.value<0?'bottom':'middle'"},"labelOverlap":false,"labelBound":false,"labelFlush":false,"domain":false,"tickSize":4,"tickRound":true,"labelPadding":1,"grid":true,"gridColor":{"condition":{"test":"datum.value==0","value":"#b4bab4"},"value":"transparent"},"gridDash":[4,3],"title":null}},"y2":{"datum":0},"color":{"field":"g","type":"nominal","scale":{"domain":["g","r"],"range":["#008000","#ff0000"]},"legend":null}}},
{"data":{"values":[{"label":"AO -0.004265"}]},"mark":{"type":"text","align":"left","baseline":"middle","color":"#000000","fontSize":9.5,"font":"Liberation Sans"},"encoding":{"x":{"datum":0.375,"type":"quantitative","scale":{"domain":[-0.0625,153.0625],"padding":0}},"y":{"datum":0.00475,"type":"quantitative","scale":{"domain":[-0.005456,0.005673],"nice":false,"zero":false}},"text":{"field":"label"}}}
]},
{"width":1225,"height":101,"layer":[
{"data":{"name":"ac"},"mark":{"type":"bar","orient":"vertical","size":4,"xOffset":-0.5,"clip":true},"encoding":{"x":{"field":"i","type":"quantitative","scale":{"domain":[-0.0625,153.0625],"padding":0},"axis":{"values":[4,8,12,16,20,24,28,32,36,40,44,48,52,56,60,64,68,72,76,80,84,88,92,96,100,104,108,112,116,120,124,128,132,136,140,144,148,152],"tickCount":60,"labels":false,"ticks":false,"domain":false,"grid":true,"gridColor":"#c6afc6","gridDash":[4,3],"gridWidth":1,"translate":0,"tickRound":false,"title":null}},"y":{"field":"v","type":"quantitative","scale":{"domain":[-0.0027836,0.0037605],"nice":false,"zero":false},"axis":{"orient":"right","values":[-0.0027836,0,0.0037605],"labelExpr":"(datum.value<0?'-':'')+format(abs(datum.value),'.7f')","labelBaseline":{"expr":"datum.value>0?'top':datum.value<0?'bottom':'middle'"},"labelOverlap":false,"labelBound":false,"labelFlush":false,"domain":false,"tickSize":4,"tickRound":true,"labelPadding":1,"grid":true,"gridColor":{"condition":{"test":"datum.value==0","value":"#b4bab4"},"value":"transparent"},"gridDash":[4,3],"title":null}},"y2":{"datum":0},"color":{"field":"g","type":"nominal","scale":{"domain":["g","r"],"range":["#008000","#ff0000"]},"legend":null}}},
{"data":{"values":[{"label":"AC -0.0001449"}]},"mark":{"type":"text","align":"left","baseline":"middle","color":"#000000","fontSize":9.5,"font":"Liberation Sans"},"encoding":{"x":{"datum":0.375,"type":"quantitative","scale":{"domain":[-0.0625,153.0625],"padding":0}},"y":{"datum":0.00315,"type":"quantitative","scale":{"domain":[-0.0027836,0.0037605],"nice":false,"zero":false}},"text":{"field":"label"}}}
]},
{"width":1225,"height":84,"layer":[
{"data":{"name":"gator"},"mark":{"type":"bar","orient":"vertical","size":4,"xOffset":-0.5,"clip":true},"encoding":{"x":{"field":"i","type":"quantitative","scale":{"domain":[-0.0625,153.0625],"padding":0},"axis":{"values":[0,4,8,12,16,20,24,28,32,36,40,44,48,52,56,60,64,68,72,76,80,84,88,92,96,100,104,108,112,116,120,124,128,132,136,140,144,148,152],"tickCount":60,"labelExpr":"datum.value%8==0?['31 Oct 2024','31 Oct 13:00','31 Oct 21:00','1 Nov 05:00','1 Nov 13:00','1 Nov 21:00','4 Nov 06:00','4 Nov 14:00','4 Nov 22:00','5 Nov 06:00','5 Nov 14:00','5 Nov 22:00','6 Nov 06:00','6 Nov 14:00','6 Nov 22:00','7 Nov 06:00','7 Nov 14:00','7 Nov 22:00','',''][datum.value/8]:''","labelAlign":"left","labelBaseline":"top","labelOverlap":false,"labelFlush":false,"labelBound":false,"labelPadding":0,"tickOpacity":{"condition":{"test":"datum.value%8==0&&datum.value<=136","value":1},"value":0},"tickSize":4,"domain":false,"grid":true,"gridColor":{"condition":{"test":"datum.value==0","value":"transparent"},"value":"#c6afc6"},"gridDash":[4,3],"gridWidth":1,"translate":0,"tickRound":false,"title":null}},"y":{"field":"u","type":"quantitative","scale":{"domain":[-0.002503,0.002657],"nice":false,"zero":false},"axis":{"orient":"right","values":[-0.002503,0,0.002657],"labelExpr":"(datum.value<0?'-':'')+format(abs(datum.value),'.6f')","labelBaseline":{"expr":"datum.value>0?'top':datum.value<0?'bottom':'middle'"},"labelOverlap":false,"labelBound":false,"labelFlush":false,"domain":false,"tickSize":4,"tickRound":true,"labelPadding":1,"grid":true,"gridColor":{"condition":{"test":"datum.value==0","value":"#b4bab4"},"value":"transparent"},"gridDash":[4,3],"title":null}},"y2":{"datum":0},"color":{"field":"uc","type":"nominal","scale":{"domain":["g","r"],"range":["#008000","#ff0000"]},"legend":null}}},
{"data":{"name":"gator"},"mark":{"type":"bar","orient":"vertical","size":4,"xOffset":-0.5,"clip":true},"encoding":{"x":{"field":"i","type":"quantitative","scale":{"domain":[-0.0625,153.0625],"padding":0}},"y":{"field":"l","type":"quantitative","scale":{"domain":[-0.002503,0.002657],"nice":false,"zero":false}},"y2":{"datum":0},"color":{"field":"lc","type":"nominal","scale":{"domain":["g","r"],"range":["#008000","#ff0000"]},"legend":null}}},
{"data":{"values":[{"label":"Gator(13,8,5) 0.001510 0.000000"}]},"mark":{"type":"text","align":"left","baseline":"middle","color":"#000000","fontSize":9.5,"font":"Liberation Sans"},"encoding":{"x":{"datum":0.375,"type":"quantitative","scale":{"domain":[-0.0625,153.0625],"padding":0}},"y":{"datum":0.00208,"type":"quantitative","scale":{"domain":[-0.002503,0.002657],"nice":false,"zero":false}},"text":{"field":"label"}}}
]}
]}
